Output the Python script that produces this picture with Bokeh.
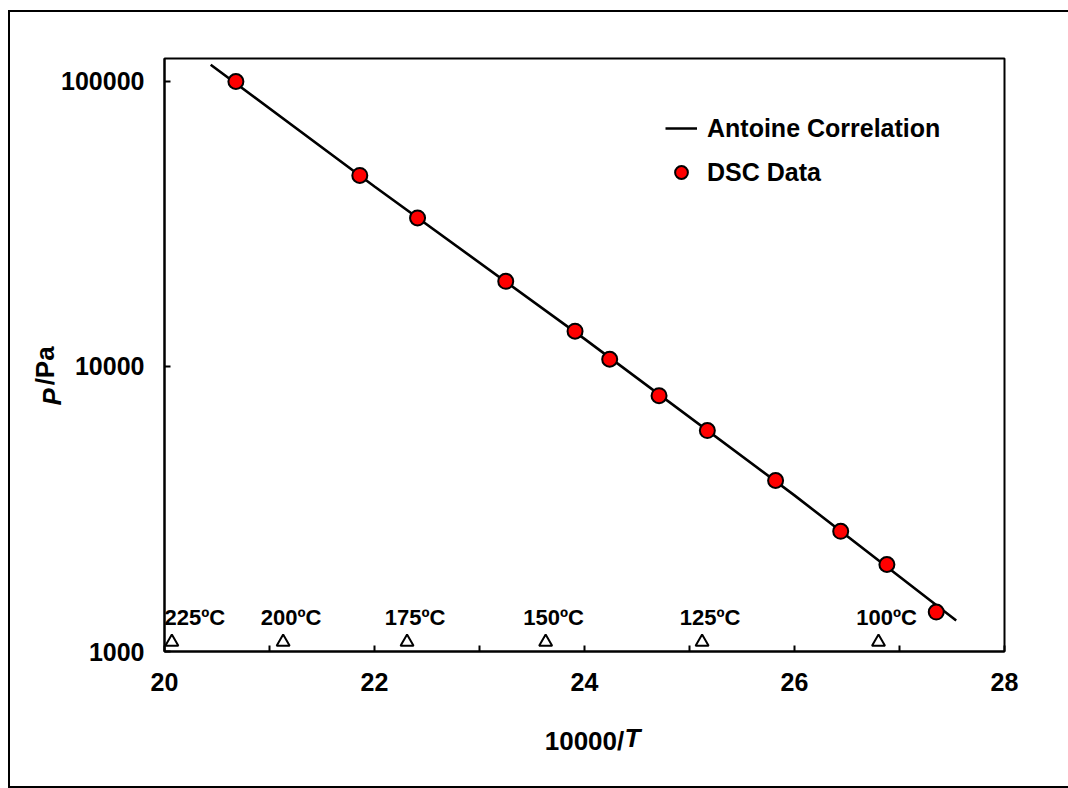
import math
from bokeh.plotting import figure
from bokeh.models import (FixedTicker, PrintfTickFormatter, Legend, LegendItem,
                          LabelSet, ColumnDataSource, Range1d, LinearAxis, LogAxis)
from bokeh.core.properties import value
from bokeh.embed import file_html
from bokeh.resources import INLINE

# ---- data ----
dsc_x = [20.68, 21.86, 22.41, 23.25, 23.91, 24.24, 24.71, 25.17, 25.82, 26.44, 26.88, 27.35]
dsc_p = [100000, 46800, 33200, 19900, 13300, 10600, 7900, 5960, 3980, 2640, 2020, 1375]

antoine_x = [20.44, 22.0, 24.0, 26.0, 27.54]
antoine_p = [114500, 42800, 12500, 3530, 1285]

temp_labels = ["225ºC", "200ºC", "175ºC", "150ºC", "125ºC", "100ºC"]
temp_x = [20.07, 21.13, 22.31, 23.63, 25.12, 26.80]
temp_p = [1080, 1080, 1080, 1080, 1080, 1080]

x_ticks = [20, 22, 24, 26, 28]
x_minor = [21, 23, 25, 27]
y_ticks = [1000, 10000, 100000]

FONT = "Liberation Sans"

p = figure(width=1058, height=774, y_axis_type="log", output_backend="svg",
           toolbar_location=None, x_range=Range1d(20, 28), y_range=Range1d(1000, 120400),
           min_border_left=154, min_border_top=46, min_border_bottom=139, min_border_right=66)
p.styles = {"box-sizing": "content-box", "margin-left": "8px", "margin-top": "10px",
            "border-left": "2px solid black", "border-top": "2px solid black",
            "border-bottom": "2px solid black"}

p.xgrid.visible = False
p.ygrid.visible = False
p.outline_line_color = "black"
p.outline_line_width = 2
p.background_fill_color = "white"
p.border_fill_color = "white"

for ax in (p.xaxis[0], p.yaxis[0]):
    ax.axis_line_width = 2
    ax.axis_line_color = "black"
    ax.major_tick_line_width = 2
    ax.minor_tick_line_width = 2
    ax.major_tick_in = 6
    ax.major_tick_out = 0
    ax.minor_tick_in = 6
    ax.minor_tick_out = 0
    ax.major_label_text_font = FONT
    ax.major_label_text_font_style = "bold"
    ax.major_label_text_font_size = "25px"
    ax.major_label_text_color = "black"

p.xaxis.ticker = FixedTicker(ticks=x_ticks, minor_ticks=x_minor)
p.xaxis.major_label_standoff = 21
p.yaxis.ticker = FixedTicker(ticks=y_ticks, minor_ticks=[])
p.yaxis.formatter = PrintfTickFormatter(format="%d")
p.yaxis.major_label_standoff = 20


def title_axis(cls, tick_pos, tick_text, rest_text, orient):
    a = cls(ticker=FixedTicker(ticks=[tick_pos], minor_ticks=[]),
            major_label_overrides={tick_pos: tick_text})
    a.axis_line_color = None
    a.major_tick_line_color = None
    a.minor_tick_line_color = None
    a.major_label_text_font = FONT
    a.major_label_text_font_style = "bold italic"
    a.major_label_text_font_size = "26px"
    a.major_label_text_color = "black"
    a.major_label_orientation = orient
    a.axis_label = rest_text
    a.axis_label_text_font = FONT
    a.axis_label_text_font_style = "bold"
    a.axis_label_text_font_size = "26px"
    a.axis_label_text_color = "black"
    return a


# x title: "10000/" (upright) + "T" (italic)
xt = title_axis(LinearAxis, 24.457, "T", "10000/", "horizontal")
xt.major_label_standoff = 23
xt.axis_label_standoff = -30
p.add_layout(xt, "below")

# y title: "P" (italic) + "/Pa" (upright), reading upwards
yt = title_axis(LogAxis, 8400, "P", "/Pa\u00a0\u00a0\u00a0", math.pi / 2)
yt.major_label_standoff = 0
yt.axis_label_standoff = -40
p.add_layout(yt, "left")

line_r = p.line(antoine_x, antoine_p, line_color="black", line_width=2.6)
src = ColumnDataSource(dict(x=dsc_x, p=dsc_p))
pts_r = p.scatter("x", "p", source=src, size=15, fill_color="#ff0000",
                  line_color="black", line_width=2)

tsrc = ColumnDataSource(dict(x=temp_x, p=temp_p, t=temp_labels, dx=[23, 8, 8, 8, 8, 8]))
p.scatter("x", "p", source=tsrc, marker="triangle", size=13, fill_color="white",
          line_color="black", line_width=2)
p.add_layout(LabelSet(x="x", y="p", text="t", source=tsrc, text_font=value(FONT),
                      text_font_style="bold", text_font_size="22px", text_align="center",
                      text_baseline="middle", x_offset="dx", y_offset=24, text_color="black"))

legend = Legend(items=[LegendItem(label="Antoine Correlation", renderers=[line_r]),
                       LegendItem(label="DSC Data", renderers=[pts_r])],
                location=(501, 459))
legend.label_text_font = FONT
legend.label_text_font_style = "bold"
legend.label_text_font_size = "25px"
legend.label_text_color = "black"
legend.glyph_width = 32
legend.glyph_height = 40
legend.label_height = 40
legend.spacing = 4
legend.padding = 10
legend.label_standoff = 10
legend.border_line_color = None
legend.background_fill_alpha = 0
p.add_layout(legend)

open("out.html", "w").write(file_html(p, INLINE))
